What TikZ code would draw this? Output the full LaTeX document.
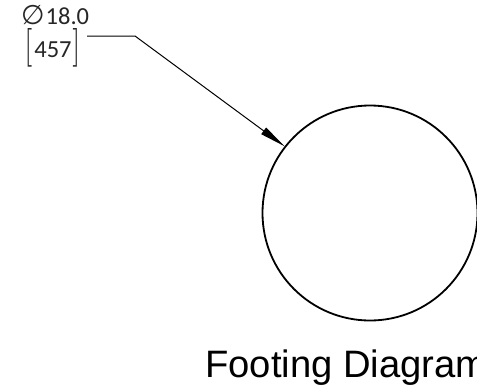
\documentclass[tikz,border=0pt]{standalone}
\usepackage{fontspec}
\setmainfont{Carlito}
\newfontfamily\titlefont{Liberation Sans}
\newfontfamily\symfont{DejaVu Sans}
\usetikzlibrary{arrows.meta}
\tikzset{
  dimtext/.style={inner sep=0pt,font=\fontsize{24.5}{26}\selectfont,text=black!85},
  bracketmark/.style={inner sep=0pt,text=black!85},
  leader/.style={line width=1pt,-{Triangle[length=26pt,width=8pt]}},
  footing/.style={circle,draw,line width=1.8pt,minimum size=215pt,inner sep=0pt},
  titletext/.style={inner sep=0pt,font=\titlefont\fontsize{38.2}{40}\selectfont,anchor=base west}
}
\begin{document}
\begin{tikzpicture}[x=1pt,y=-1pt]
\useasboundingbox (0,0) rectangle (477,389);
\clip (0,0) rectangle (477,389);
\node[dimtext,anchor=base west] (dia) at (21,24.5) {{\symfont\fontsize{27}{27}\selectfont ∅}\hspace{1pt}18.0};
\node[dimtext,anchor=base] (size) at (53,57) {457};
\node[bracketmark] (lb) at (28.5,47.5) {\resizebox{8pt}{29pt}{$[$}};
\node[bracketmark] (rb) at (76.5,47.5) {\resizebox{8pt}{29pt}{$]$}};
\node[footing] (circ) at (370,213) {};
\coordinate (elbow) at (135,36);
\coordinate (start) at (87,36);
\draw[leader] (start) -- (elbow) -- (circ.142.5);
\node[titletext] (title) at (205,377) {Footing Diagram};
\end{tikzpicture}
\end{document}
